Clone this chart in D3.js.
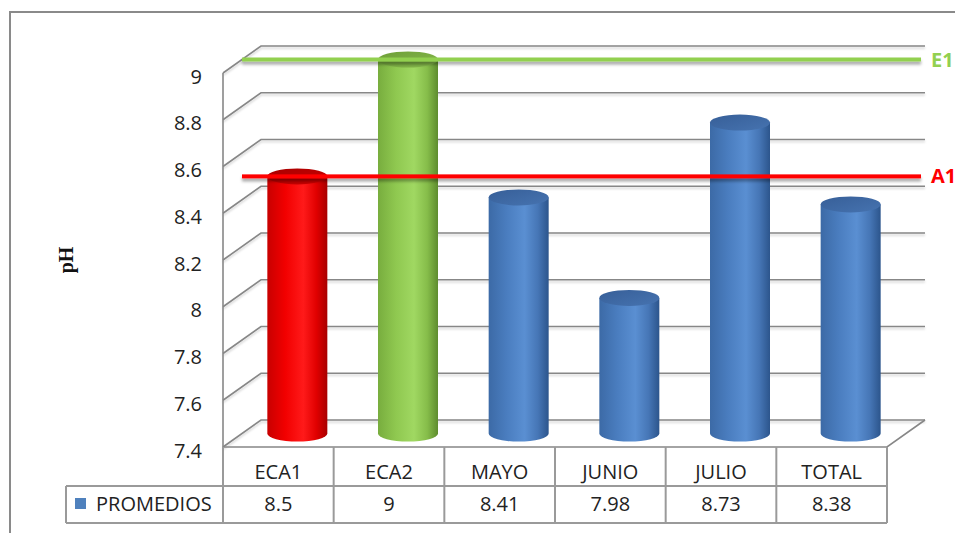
<!DOCTYPE html>
<html>
<head>
<meta charset="utf-8">
<script src="https://cdn.jsdelivr.net/npm/d3@7"></script>
<style>
  html, body { margin: 0; padding: 0; background: #fff; overflow: hidden; }
  svg { display: block; font-family: "Open Sans", "Liberation Sans", sans-serif; }
</style>
</head>
<body>
<svg id="chart" width="955" height="533"></svg>
<script>
// Monthly pH averages compared with the two quality standards
const categories = ["ECA1", "ECA2", "MAYO", "JUNIO", "JULIO", "TOTAL"];
const promedios = [8.5, 9, 8.41, 7.98, 8.73, 8.38];
const yTicks = [7.4, 7.6, 7.8, 8, 8.2, 8.4, 8.6, 8.8, 9];
const refLabels = ["E1", "A1"];
const refValues = [9, 8.5];
const seriesName = "PROMEDIOS";
const axisTitle = "pH";

const svg = d3.select("#chart");

// 3D box geometry: front plane, depth offset to the back wall
const depthX = 38, depthY = -27;
const midX = depthX / 2, midY = depthY / 2;

const x = d3.scaleBand().domain(categories).range([223, 887]);
const y = d3.scaleLinear().domain([7.4, 9]).range([447, 73]);

const defs = svg.append("defs");

// cylinder shading
const palettes = {
  red:   { body: ["#c80000", "#f20000", "#ff1a1a", "#e00000", "#a80000"], top: ["#a80000", "#cc0000"] },
  green: { body: ["#78ad3e", "#8fc850", "#a0d862", "#86bd4a", "#5e8c2e"], top: ["#6e9f38", "#86b94c"] },
  blue:  { body: ["#3c6aa6", "#4a7dbf", "#5a8fd2", "#4676b6", "#2c558c"], top: ["#375f98", "#4673b0"] }
};
const colorOf = c => c === "ECA1" ? "red" : (c === "ECA2" ? "green" : "blue");

Object.entries(palettes).forEach(([k, p]) => {
  const g = defs.append("linearGradient").attr("id", "body-" + k)
    .attr("x1", 0).attr("x2", 1).attr("y1", 0).attr("y2", 0);
  [0, 0.3, 0.6, 0.82, 1].forEach((o, i) =>
    g.append("stop").attr("offset", o).attr("stop-color", p.body[i]));
  const t = defs.append("linearGradient").attr("id", "top-" + k)
    .attr("x1", 0).attr("x2", 1).attr("y1", 0).attr("y2", 1);
  t.append("stop").attr("offset", 0).attr("stop-color", p.top[0]);
  t.append("stop").attr("offset", 1).attr("stop-color", p.top[1]);
});

const sh = defs.append("filter").attr("id", "lineShadow")
  .attr("filterUnits", "userSpaceOnUse")
  .attr("x", 0).attr("y", 0).attr("width", 955).attr("height", 533);
sh.append("feDropShadow").attr("dx", 0).attr("dy", 3).attr("stdDeviation", 1.6)
  .attr("flood-color", "#000").attr("flood-opacity", 0.35);

const gsh = defs.append("filter").attr("id", "gridShadow")
  .attr("filterUnits", "userSpaceOnUse")
  .attr("x", 0).attr("y", 0).attr("width", 955).attr("height", 533);
gsh.append("feDropShadow").attr("dx", 0).attr("dy", 2).attr("stdDeviation", 1)
  .attr("flood-color", "#000").attr("flood-opacity", 0.18);

// outer chart frame
svg.append("rect").attr("x", 10).attr("y", 12).attr("width", 1000).attr("height", 600)
  .attr("fill", "none").attr("stroke", "#8a8a8a").attr("stroke-width", 2);

const x0 = x.range()[0], x1 = x.range()[1];
const gridColor = "#878787";

// side wall + back wall gridlines
const grid = svg.append("g").attr("filter", "url(#gridShadow)");
yTicks.forEach(v => {
  const yy = y(v);
  grid.append("path")
    .attr("d", `M${x0},${yy} L${x0 + depthX},${yy + depthY} L${x1 + depthX},${yy + depthY}`)
    .attr("fill", "none").attr("stroke", gridColor).attr("stroke-width", 1.6);
});
// floor
const yb = y(7.4);
svg.append("path")
  .attr("d", `M${x0},${yb} L${x1},${yb} L${x1 + depthX},${yb + depthY}`)
  .attr("fill", "none").attr("stroke", gridColor).attr("stroke-width", 1.6);
// front vertical axis edge
svg.append("line").attr("x1", x0).attr("x2", x0).attr("y1", y(9)).attr("y2", yb)
  .attr("stroke", gridColor).attr("stroke-width", 1.6);

// tick labels
svg.append("g").selectAll("text").data(yTicks).join("text")
  .attr("x", 202).attr("y", d => y(d) + 10.5)
  .attr("text-anchor", "end").attr("font-size", 20).attr("fill", "#222")
  .text(d => String(d));

// axis title
svg.append("text")
  .attr("transform", "translate(73,260) rotate(-90)")
  .attr("text-anchor", "middle")
  .attr("font-family", "'Liberation Serif', 'DejaVu Serif', serif")
  .attr("font-weight", "bold").attr("font-size", 20).attr("fill", "#111")
  .text(axisTitle);

// cylinders at mid depth
const rx = 30, ry = 8;
const bars = svg.append("g");
categories.forEach((c, i) => {
  const cx = x(c) + x.bandwidth() / 2 + midX;
  const yTop = y(promedios[i]) + midY;
  const yBot = y(7.4) + midY;
  const k = colorOf(c);
  bars.append("path")
    .attr("d", `M${cx - rx},${yTop} L${cx - rx},${yBot} A${rx},${ry} 0 0 0 ${cx + rx},${yBot} L${cx + rx},${yTop} Z`)
    .attr("fill", `url(#body-${k})`);
  bars.append("ellipse")
    .attr("cx", cx).attr("cy", yTop).attr("rx", rx).attr("ry", ry)
    .attr("fill", `url(#top-${k})`);
});

// reference lines with labels
const refColors = ["#92d050", "#ff0000"];
refValues.forEach((v, i) => {
  const yy = y(v) + midY;
  svg.append("rect")
    .attr("x", x0 + midX).attr("width", (x1 + depthX - 4) - (x0 + midX))
    .attr("y", yy - 2).attr("height", 4)
    .attr("fill", refColors[i])
    .attr("filter", "url(#lineShadow)");
  svg.append("text")
    .attr("x", 931).attr("y", yy + 7)
    .attr("font-size", 20).attr("font-weight", "bold")
    .attr("fill", refColors[i])
    .text(refLabels[i]);
});

// data table
const tColor = "#9a9a9a";
const rowTop = 447, rowMid = 486, rowBot = 523, legendLeft = 66;
const table = svg.append("g").attr("stroke", tColor).attr("stroke-width", 2).attr("fill", "none");
table.append("line").attr("x1", legendLeft).attr("x2", x1).attr("y1", rowMid).attr("y2", rowMid);
table.append("line").attr("x1", legendLeft).attr("x2", x1).attr("y1", rowBot).attr("y2", rowBot);
table.append("line").attr("x1", legendLeft).attr("x2", legendLeft).attr("y1", rowMid).attr("y2", rowBot);
categories.forEach(c => {
  table.append("line").attr("x1", x(c)).attr("x2", x(c)).attr("y1", rowTop).attr("y2", rowBot);
});
table.append("line").attr("x1", x1).attr("x2", x1).attr("y1", rowTop).attr("y2", rowBot);

svg.append("g").selectAll("text").data(categories).join("text")
  .attr("x", d => x(d) + x.bandwidth() / 2).attr("y", 479)
  .attr("text-anchor", "middle").attr("font-size", 20).attr("fill", "#222")
  .text(d => d);
svg.append("g").selectAll("text").data(promedios).join("text")
  .attr("x", (d, i) => x(categories[i]) + x.bandwidth() / 2).attr("y", 511)
  .attr("text-anchor", "middle").attr("font-size", 20).attr("fill", "#222")
  .text(d => String(d));

// legend key
svg.append("rect").attr("x", 75).attr("y", 498).attr("width", 11).attr("height", 11)
  .attr("fill", "#4f81bd");
svg.append("text").attr("x", 96).attr("y", 511)
  .attr("font-size", 20).attr("fill", "#222").text(seriesName);
</script>
</body>
</html>
